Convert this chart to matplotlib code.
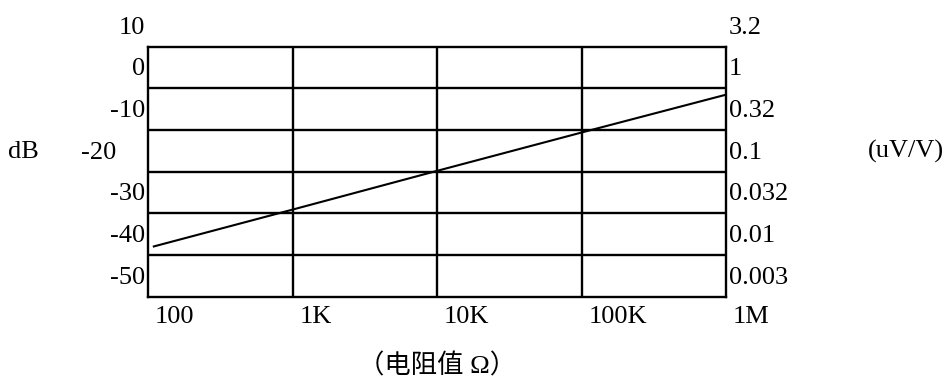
import matplotlib
matplotlib.use('Agg')
import matplotlib.pyplot as plt
from matplotlib.transforms import offset_copy

plt.rcParams['font.family'] = ['Liberation Serif', 'Noto Sans CJK SC']

# dB grid values and matching uV/V labels
db_ticks = [10, 0, -10, -20, -30, -40, -50]
db_labels = ['10', '0', '-10', '-20', '-30', '-40', '-50']
uv_labels = ['3.2', '1', '0.32', '0.1', '0.032', '0.01', '0.003']

# resistance axis
r_ticks = [100, 1e3, 1e4, 1e5, 1e6]
r_labels = ['100', '1K', '10K', '100K', '1M']

# noise curve
r_vals = [108, 1e3, 1e4, 1e5, 1.03e6]
noise_db = [-38.0, -29.1, -19.8, -10.6, -1.4]

W, H = 951, 379
fig = plt.figure(figsize=(W / 100, H / 100), dpi=100)
ax = fig.add_axes([148 / W, 1 - 296.7 / H, 578 / W, 250 / H])
ax.set_xscale('log')
ax.set_xlim(100, 1e6)
ax.set_ylim(-50, 10)
ax.set_xticks([])
ax.set_xticks([], minor=True)
ax.set_yticks([])
for s in ax.spines.values():
    s.set_linewidth(1.7)

for d in db_ticks[1:-1]:
    ax.axhline(d, color='black', lw=1.7)
for r in r_ticks[1:-1]:
    ax.axvline(r, color='black', lw=1.7)

ax.plot(r_vals, noise_db, color='black', lw=1.5, solid_capstyle='butt')

fs = 19
ytr = ax.get_yaxis_transform()
for d, lab, uv in zip(db_ticks, db_labels, uv_labels):
    dx = -32 if lab == '-20' else -3
    t = offset_copy(ytr, fig=fig, x=dx, y=19, units='dots')
    ax.text(0, d, lab, transform=t, ha='right', va='center', fontsize=fs)
    t2 = offset_copy(ytr, fig=fig, x=3, y=19, units='dots')
    ax.text(1, d, uv, transform=t2, ha='left', va='center', fontsize=fs)

xtr = ax.get_xaxis_transform()
for r, lab in zip(r_ticks, r_labels):
    t = offset_copy(xtr, fig=fig, x=7, y=-20, units='dots')
    ax.text(r, 0, lab, transform=t, ha='left', va='center', fontsize=fs)

fig.text(8 / W, 1 - 152 / H, 'dB', ha='left', va='center', fontsize=fs)
fig.text(868 / W, 1 - 151 / H, '(uV/V)', ha='left', va='center', fontsize=fs)
fig.text(437 / W, 1 - 366 / H, '（电阻值 Ω）', ha='center', va='center', fontsize=19)

fig.savefig('out.png', dpi=100)
